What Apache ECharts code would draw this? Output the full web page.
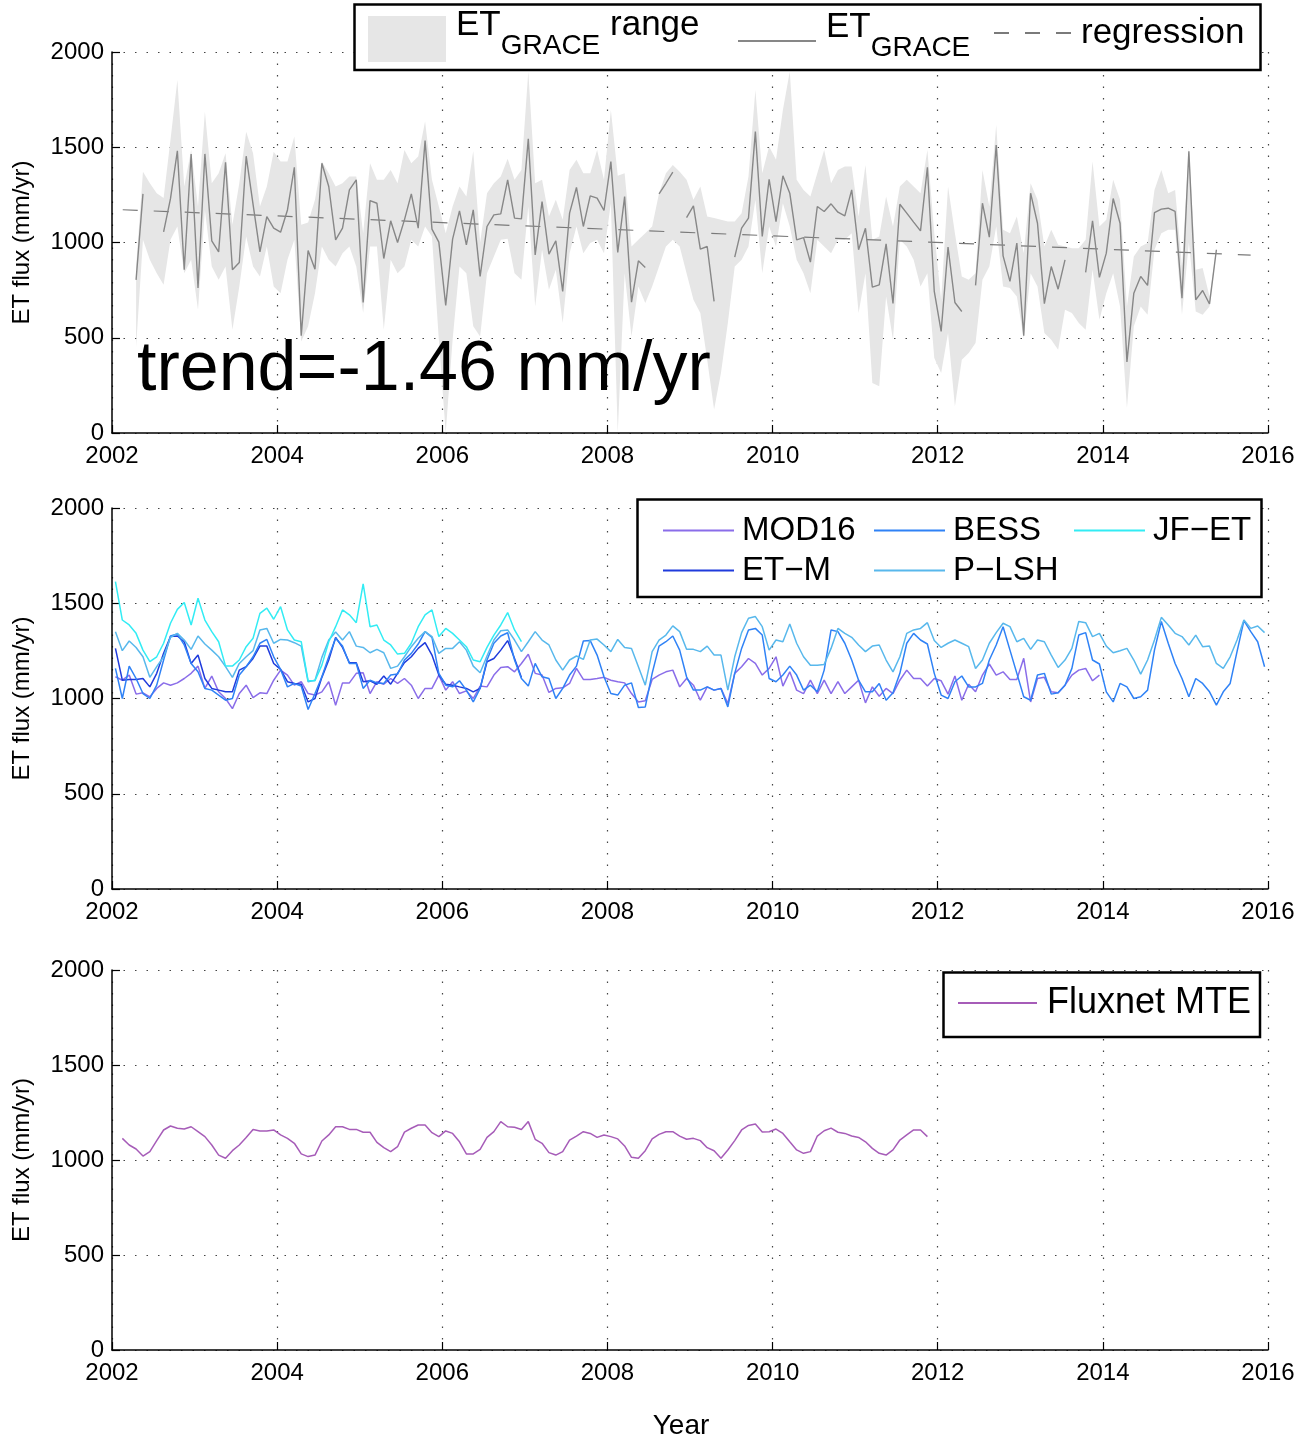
<!DOCTYPE html>
<html><head><meta charset="utf-8">
<script src="https://cdn.jsdelivr.net/npm/echarts@6/dist/echarts.min.js"></script>
<style>html,body{margin:0;padding:0;background:#fff}#c{width:1305px;height:1445px}</style>
</head><body><div id="c"></div>
<script>
const FONT = "'Liberation Sans', Arial, Helvetica, sans-serif";

// ---- tick labels ----
const yearTicks = [2002, 2004, 2006, 2008, 2010, 2012, 2014, 2016];
const fluxTicks = [0, 500, 1000, 1500, 2000];

// ---- GRACE (monthly, Apr 2002 .. May 2015) ----
const graceStart = 2002 + 3.5 / 12;
const graceLine = [
  804, 1255, null, null, 1056, 1230, 1481, 857, 1465,
  761, 1465, 1009, 951, 1421, 857, 895, 1453, 1200, 951, 1136, 1075,
  1054, 1171, 1395, 511, 958, 860, 1416, 1294, 1014, 1075, 1276, 1329,
  685, 1220, 1206, 916, 1114, 1000, 1119, 1255, 1075, 1535, 1070, 1002,
  670, 1018, 1166, 988, 1171, 822, 1084, 1145, 1150, 1329, 1128, 1124,
  1544, 935, 1215, 939, 1009, 743, 1154, 1289, 1084, 1245, 1233, 1168,
  1425, 948, 1241, 687, 904, 869, null, 1255, 1311, 1369, null, 1131,
  1192, 965, 979, 691, null, null, 923, 1075, 1128, 1582, 1032, 1332,
  1110, 1350, 1259, 1014, 1026, 897, 1189, 1163, 1203, 1159, 1140, 1276,
  962, 1075, 766, 778, 993, 680, 1201, 1154, 1107, 1061, 1395, 743,
  533, 976, 685, 638, null, 775, 1206, 1028, 1511, 930, 796, 997,
  511, 1259, 1101, 679, 874, 755, 909, null, null, 843, 1114, 817,
  944, 1231, 1101, 373, 734, 822, 775, 1157, 1175, 1180, 1163, 708,
  1479, 699, 748, 677, 962
];
const graceUpper = [
  870, 1372, 1311, 1259, 1233, 1539, 1853, 1294, 1486,
  1189, 1687, 1311, 1364, 1469, 1093, 1311, 1582, 1469, 1189, 1294, 1477,
  1425, 1425, 1556, 1093, 1105, 1224, 1425, 1364, 1294, 1311, 1346, 1346,
  1049, 1416, 1329, 1329, 1381, 1311, 1486, 1416, 1451, 1635, 1329, 1189,
  1049, 1189, 1294, 1241, 1480, 1000, 1259, 1311, 1346, 1440, 1329, 1381,
  1897, 1311, 1329, 1136, 1224, 1119, 1381, 1434, 1364, 1364, 1486, 1329,
  1696, 1350, 1364, 979, 1014, 1049, 1084, 1259, 1364, 1407, 1372, 1329,
  1224, 1294, 1136, 1128, 1119, 1110, 1110, 1154, 1346, 1801, 1364, 1504,
  1434, 1696, 1897, 1329, 1276, 1241, 1364, 1486, 1311, 1381, 1399, 1399,
  1136, 1407, 1014, 1032, 1241, 1084, 1294, 1329, 1294, 1259, 1486, 1049,
  699, 1294, 1049, 822, 804, 839, 1381, 1189, 1617, 1067, 1049, 1136,
  944, 1311, 1224, 979, 1067, 988, 979, 970, 970, 1014, 1425, 1084,
  1119, 1329, 1224, 664, 927, 979, 997, 1276, 1381, 1259, 1276, 874,
  1500, 857, 866, 717, 970
];
const graceLower = [
  450, 1014, 909, 839, 778, 1014, 1084, 839, 909,
  647, 1171, 874, 804, 874, 542, 769, 1032, 874, 822, 979, 769,
  734, 909, 1014, 480, 560, 734, 979, 909, 874, 944, 979, 874,
  630, 979, 979, 542, 909, 839, 874, 1014, 979, 1084, 1032, 490,
  0, 490, 874, 839, 560, 507, 839, 927, 1014, 1020, 839, 804,
  1189, 664, 962, 752, 857, 577, 944, 1084, 944, 997, 1014, 944,
  1206, 0, 839, 507, 769, 682, 769, 874, 979, 1014, 979, 839,
  699, 630, 385, 123, 315, 577, 874, 909, 979, 1224, 839, 1084,
  979, 1206, 1084, 909, 839, 734, 1014, 979, 944, 1014, 1014, 1049,
  630, 839, 262, 245, 717, 490, 1014, 979, 909, 769, 839, 394,
  315, 525, 140, 385, 420, 472, 804, 874, 1084, 769, 761, 717,
  498, 839, 769, 525, 490, 437, 647, 630, 577, 542, 857, 595,
  734, 839, 664, 131, 560, 664, 621, 962, 1049, 1067, 1067, 621,
  1000, 638, 621, 664, 950
];
const regression = [[2002.13, 1172], [2015.79, 934]];

// ---- remote-sensing products (monthly from Jan 2002) ----
const productStart = 2002 + 0.5 / 12;
const mod16 = [
  1114, 1096, 1123, 1023, 1030, 1009, 1053, 1082, 1070, 1082, 1105, 1132,
  1170, 1053, 1118, 1035, 1000, 947, 1026, 1070, 1005, 1030, 1026, 1096,
  1149, 1123, 1070, 1088, 1026, 1018, 1035, 1088, 965, 1082, 1082, 1132,
  1135, 1026, 1088, 1075, 1105, 1079, 1105, 1070, 1000, 1053, 1053, 1123,
  1044, 1088, 1026, 1040, 1000, 1065, 1061, 1123, 1163, 1167, 1140, 1184,
  1232, 1132, 1123, 1032, 1053, 1056, 1079, 1158, 1100, 1100, 1105, 1111,
  1096, 1088, 1082, 1026, 982, 988, 1100, 1123, 1140, 1149, 1061, 1105,
  1070, 991, 1061, 1044, 1053, 974, 1132, 1167, 1210, 1184, 1123, 1158,
  1219, 1065, 1140, 1044, 1026, 1096, 1026, 1096, 1026, 1088, 1026, 1061,
  1096, 977, 1061, 1012, 1053, 1026, 1096, 1149, 1105, 1105, 1065, 1105,
  1093, 1023, 1118, 991, 1075, 1035, 1123, 1181, 1123, 1140, 1100, 1100,
  1211, 982, 1105, 1111, 1035, 1030, 1070, 1123, 1149, 1158, 1093, 1123
];
const bess = [
  1158, 1000, 1170, 1105, 1026, 1000, 1070, 1202, 1328, 1339, 1281, 1184,
  1140, 1053, 1044, 1018, 991, 1000, 1123, 1167, 1219, 1290, 1310, 1219,
  1153, 1061, 1079, 1065, 942, 1026, 1114, 1219, 1316, 1275, 1184, 1184,
  1053, 1096, 1082, 1079, 1123, 1128, 1202, 1237, 1286, 1351, 1321, 1132,
  1070, 1061, 1093, 1044, 982, 1053, 1202, 1290, 1328, 1345, 1202, 1105,
  1065, 1184, 1114, 1105, 1000, 1053, 1123, 1170, 1302, 1304, 1228, 1114,
  1026, 1018, 1070, 1082, 953, 956, 1132, 1275, 1298, 1328, 1254, 1114,
  1044, 1044, 1061, 1044, 1053, 956, 1132, 1263, 1360, 1368, 1333, 1105,
  1088, 1123, 1170, 1123, 1044, 1070, 1035, 1149, 1360, 1351, 1290, 1202,
  1096, 1035, 1035, 1079, 991, 1030, 1132, 1290, 1342, 1307, 1286, 1132,
  1018, 1000, 1088, 1118, 1061, 1061, 1079, 1202, 1281, 1377, 1254, 1132,
  1009, 991, 1123, 1132, 1023, 1030, 1070, 1158, 1333, 1346, 1202, 1181,
  1035, 982, 1079, 1061, 1000, 1009, 1044, 1254, 1404, 1290, 1184, 1105,
  1009, 1105, 1079, 1035, 965, 1035, 1079, 1246, 1409, 1351, 1298, 1167
];
const jfet = [
  1614, 1412, 1386, 1342, 1254, 1193, 1219, 1290, 1395, 1468, 1504, 1386,
  1526, 1412, 1351, 1298, 1170, 1170, 1202, 1272, 1316, 1447, 1474, 1416,
  1482, 1360, 1307, 1298, 1093, 1093, 1175, 1298, 1377, 1465, 1439, 1398,
  1602, 1377, 1386, 1307, 1281, 1233, 1237, 1290, 1377, 1439, 1465, 1325,
  1368, 1342, 1307, 1272, 1202, 1193, 1268, 1333, 1386, 1451, 1360, 1298
];
const etm = [
  1263, 1096, 1100, 1100, 1105, 1061, 1132, 1237, 1325, 1328, 1298, 1184,
  1228, 1105, 1053, 1044, 1035, 1035, 1149, 1167, 1210, 1275, 1275, 1184,
  1153, 1088, 1079, 1075, 982, 1000, 1111, 1202, 1321, 1268, 1188, 1188,
  1088, 1093, 1075, 1118, 1075, 1132, 1188, 1219, 1263, 1293, 1228, 1123,
  1075, 1070, 1061, 1053, 1035, 1053, 1193, 1210, 1254, 1304, 1210, 1110
];
const plsh = [
  1351, 1251, 1302, 1268, 1219, 1111, 1167, 1219, 1321, 1342, 1307, 1258,
  1328, 1286, 1254, 1219, 1167, 1111, 1184, 1219, 1251, 1360, 1368, 1290,
  1310, 1307, 1293, 1275, 1088, 1096, 1216, 1307, 1349, 1307, 1351, 1275,
  1268, 1240, 1258, 1240, 1158, 1170, 1219, 1272, 1316, 1351, 1325, 1237,
  1263, 1263, 1298, 1254, 1170, 1135, 1223, 1307, 1356, 1360, 1307, 1246,
  1298, 1351, 1307, 1281, 1202, 1149, 1202, 1223, 1205, 1307, 1312, 1281,
  1246, 1310, 1268, 1263, 1167, 1070, 1246, 1307, 1333, 1381, 1351, 1258,
  1258, 1246, 1275, 1228, 1228, 1044, 1219, 1346, 1421, 1430, 1377, 1254,
  1307, 1298, 1391, 1290, 1219, 1175, 1175, 1179, 1263, 1368, 1342, 1321,
  1281, 1246, 1275, 1281, 1202, 1140, 1219, 1342, 1360, 1368, 1398, 1304,
  1268, 1290, 1307, 1290, 1272, 1158, 1202, 1290, 1346, 1395, 1377, 1298,
  1316, 1258, 1307, 1298, 1228, 1163, 1202, 1263, 1404, 1398, 1325, 1342,
  1275, 1240, 1251, 1263, 1202, 1128, 1202, 1307, 1426, 1386, 1342, 1325,
  1281, 1333, 1272, 1275, 1184, 1158, 1219, 1307, 1412, 1368, 1381, 1346
];

// ---- Fluxnet MTE (monthly, Feb 2002 .. Nov 2011) ----
const fluxStart = 2002 + 1.5 / 12;
const fluxnet = [
  1114, 1079, 1058, 1021, 1044, 1102, 1158, 1179, 1167, 1163, 1175,
  1149, 1123, 1079, 1026, 1009, 1049, 1079, 1118, 1161, 1153, 1153, 1158,
  1132, 1114, 1088, 1032, 1018, 1026, 1100, 1132, 1175, 1175, 1161, 1161,
  1146, 1146, 1093, 1065, 1044, 1070, 1147, 1167, 1184, 1184, 1144, 1123,
  1153, 1140, 1096, 1032, 1032, 1056, 1119, 1149, 1202, 1175, 1172, 1161,
  1202, 1109, 1088, 1039, 1026, 1044, 1105, 1126, 1149, 1140, 1119, 1132,
  1123, 1111, 1074, 1014, 1009, 1049, 1111, 1135, 1149, 1149, 1126, 1109,
  1114, 1102, 1065, 1049, 1009, 1053, 1102, 1158, 1182, 1189, 1147, 1149,
  1163, 1140, 1096, 1053, 1035, 1044, 1126, 1154, 1168, 1146, 1140, 1126,
  1119, 1096, 1061, 1035, 1026, 1053, 1105, 1132, 1158, 1158, 1123
];

function monthly(start, arr) {
  return arr.map((v, i) => [start + i / 12, v == null ? '-' : v]);
}

const chart = echarts.init(document.getElementById('c'), null, {renderer: 'canvas'});

const grids = [
  {left: 112, right: 37, top: 52, height: 381},
  {left: 112, right: 37, top: 508, height: 381},
  {left: 112, right: 37, top: 970, height: 380}
].map(g => Object.assign(g, {containLabel: false, outerBoundsMode: 'none'}));

const dotted = {color: '#444', width: 1.2, type: [1.5, 10]};
function xAxisFor(i) {
  const ax = {
    type: 'value', gridIndex: i,
    min: yearTicks[0], max: yearTicks[yearTicks.length - 1],
    interval: yearTicks[1] - yearTicks[0],
    axisLine: {show: true, onZero: false, lineStyle: {color: '#000', width: 1.5}},
    axisTick: {show: true, inside: true, length: 8, lineStyle: {color: '#000', width: 1.2}},
    axisLabel: {color: '#000', fontSize: 24, fontFamily: FONT, margin: 11,
      showMinLabel: true, showMaxLabel: true, formatter: v => String(v)},
    splitLine: {show: true, lineStyle: dotted}
  };
  if (i === 2) {
    Object.assign(ax, {name: 'Year', nameLocation: 'middle', nameGap: 62,
      nameTextStyle: {color: '#000', fontSize: 28, fontFamily: FONT, padding: [0, 18, 0, 0]}});
  }
  return ax;
}
function yAxisFor(i) {
  return {
    type: 'value', gridIndex: i,
    min: fluxTicks[0], max: fluxTicks[fluxTicks.length - 1],
    interval: fluxTicks[1] - fluxTicks[0],
    name: 'ET flux (mm/yr)', nameLocation: 'middle', nameGap: 78,
    nameTextStyle: {color: '#000', fontSize: 24, fontFamily: FONT},
    axisLine: {show: true, lineStyle: {color: '#000', width: 1.5}},
    axisTick: {show: true, inside: true, length: 8, lineStyle: {color: '#000', width: 1.2}},
    axisLabel: {color: '#000', fontSize: 24, fontFamily: FONT, margin: 8,
      showMinLabel: true, showMaxLabel: true, formatter: v => String(v)},
    splitLine: {show: true, lineStyle: dotted}
  };
}

function lineSeries(name, axis, data, color, width, extra) {
  return Object.assign({
    name, type: 'line', xAxisIndex: axis, yAxisIndex: axis, data,
    symbol: 'none', showSymbol: false, connectNulls: false, color,
    lineStyle: {color, width}, emphasis: {disabled: true}, silent: true, z: 2
  }, extra || {});
}

const graceX = graceUpper.map((u, i) => graceStart + i / 12);
const bandSeries = {
  name: 'ET_GRACE range', type: 'custom', coordinateSystem: 'cartesian2d',
  xAxisIndex: 0, yAxisIndex: 0, silent: true, z: 1,
  itemStyle: {color: '#e6e6e6'},
  data: graceX.map((x, i) => [x, graceLower[i], graceUpper[i]]),
  encode: {x: 0, y: [1, 2]},
  renderItem: function (params, api) {
    if (params.dataIndex !== 0) return null;
    const pts = [];
    for (let i = 0; i < graceX.length; i++) pts.push(api.coord([graceX[i], graceUpper[i]]));
    for (let i = graceX.length - 1; i >= 0; i--) pts.push(api.coord([graceX[i], graceLower[i]]));
    return {type: 'polygon', shape: {points: pts}, style: {fill: '#e6e6e6', stroke: null}};
  }
};

const series = [
  bandSeries,
  lineSeries('regression', 0, regression, '#7a7a7a', 1.2,
    {lineStyle: {color: '#7a7a7a', width: 1.2, type: [15, 16]}}),
  lineSeries('ET_GRACE', 0, monthly(graceStart, graceLine), '#878787', 1.4),
  lineSeries('MOD16', 1, monthly(productStart, mod16), '#8a6de9', 1.5),
  lineSeries('ET\u2212M', 1, monthly(productStart, etm), '#1f3bdc', 1.5),
  lineSeries('BESS', 1, monthly(productStart, bess), '#2f82f6', 1.5),
  lineSeries('P\u2212LSH', 1, monthly(productStart, plsh), '#58b8ec', 1.5),
  lineSeries('JF\u2212ET', 1, monthly(productStart, jfet), '#32ecf4', 1.5),
  lineSeries('Fluxnet MTE', 2, monthly(fluxStart, fluxnet), '#a65cb8', 1.5)
];

const richTop = {
  a: {fontSize: 35, fontFamily: FONT, color: '#000', padding: [0, 0, 28, 0]},
  s: {fontSize: 28, fontFamily: FONT, color: '#000', padding: [15, 0, 0, 0]}
};
function graceFormatter(name) {
  if (name === 'ET_GRACE range') return '{a|ET}{s|GRACE}{a| range}';
  if (name === 'ET_GRACE') return '{a|ET}{s|GRACE}';
  return name;
}
const lineLegendBase = {
  selectedMode: false, orient: 'horizontal', padding: 0, z: 6,
  itemStyle: {opacity: 0}, textStyle: {color: '#000', fontFamily: FONT}
};
function mk(o) { return Object.assign({}, lineLegendBase, o, {textStyle: Object.assign({}, lineLegendBase.textStyle, o.textStyle || {})}); }
const midText = {fontSize: 33, padding: [0, 0, 0, 3]};

const legends = [
  {selectedMode: false, orient: 'horizontal', padding: 0, z: 6, left: 368, top: 7.5,
    itemWidth: 78, itemHeight: 46,
    data: [{name: 'ET_GRACE range', icon: 'rect', itemStyle: {color: '#e6e6e6', opacity: 1}}],
    formatter: graceFormatter, textStyle: {padding: [0, 0, 0, 5], rich: richTop}},
  mk({left: 737, top: 9.5, itemWidth: 78, itemHeight: 10, data: ['ET_GRACE'],
    formatter: graceFormatter, textStyle: {padding: [0, 0, 0, 5], rich: richTop}}),
  mk({left: 993, top: 15, itemWidth: 78, itemHeight: 10, data: ['regression'],
    textStyle: {fontSize: 35, lineHeight: 36, padding: [0, 0, 0, 4]}}),
  mk({left: 662, top: 514, itemWidth: 71, itemHeight: 14, data: ['MOD16'], textStyle: midText}),
  mk({left: 662, top: 554, itemWidth: 71, itemHeight: 14, data: ['ET\u2212M'], textStyle: midText}),
  mk({left: 873, top: 514, itemWidth: 71, itemHeight: 14, data: ['BESS'], textStyle: midText}),
  mk({left: 873, top: 554, itemWidth: 71, itemHeight: 14, data: ['P\u2212LSH'], textStyle: midText}),
  mk({left: 1073, top: 514, itemWidth: 71, itemHeight: 14, data: ['JF\u2212ET'], textStyle: midText}),
  mk({left: 957, top: 985, itemWidth: 79, itemHeight: 14, data: ['Fluxnet MTE'],
    textStyle: {fontSize: 36, padding: [0, 0, 0, 5]}})
];

const boxStyle = {fill: '#fff', stroke: '#000', lineWidth: 2.5};
const option = {
  animation: false,
  backgroundColor: '#fff',
  textStyle: {fontFamily: FONT},
  grid: grids,
  xAxis: [0, 1, 2].map(xAxisFor),
  yAxis: [0, 1, 2].map(yAxisFor),
  legend: legends,
  series,
  graphic: [
    {type: 'rect', z: 5, silent: true, shape: {x: 354.5, y: 4.5, width: 906, height: 65.5}, style: boxStyle},
    {type: 'rect', z: 5, silent: true, shape: {x: 637.5, y: 499.5, width: 624, height: 97.5}, style: boxStyle},
    {type: 'rect', z: 5, silent: true, shape: {x: 943.5, y: 972.5, width: 316.5, height: 64.5}, style: boxStyle},
    {type: 'text', z: 7, silent: true, x: 137, y: 371,
      style: {text: 'trend=-1.46 mm/yr', fontSize: 70, fontFamily: FONT, fill: '#000',
        align: 'left', verticalAlign: 'middle', textAlign: 'left', textVerticalAlign: 'middle'}}
  ]
};
chart.setOption(option);
</script></body></html>
